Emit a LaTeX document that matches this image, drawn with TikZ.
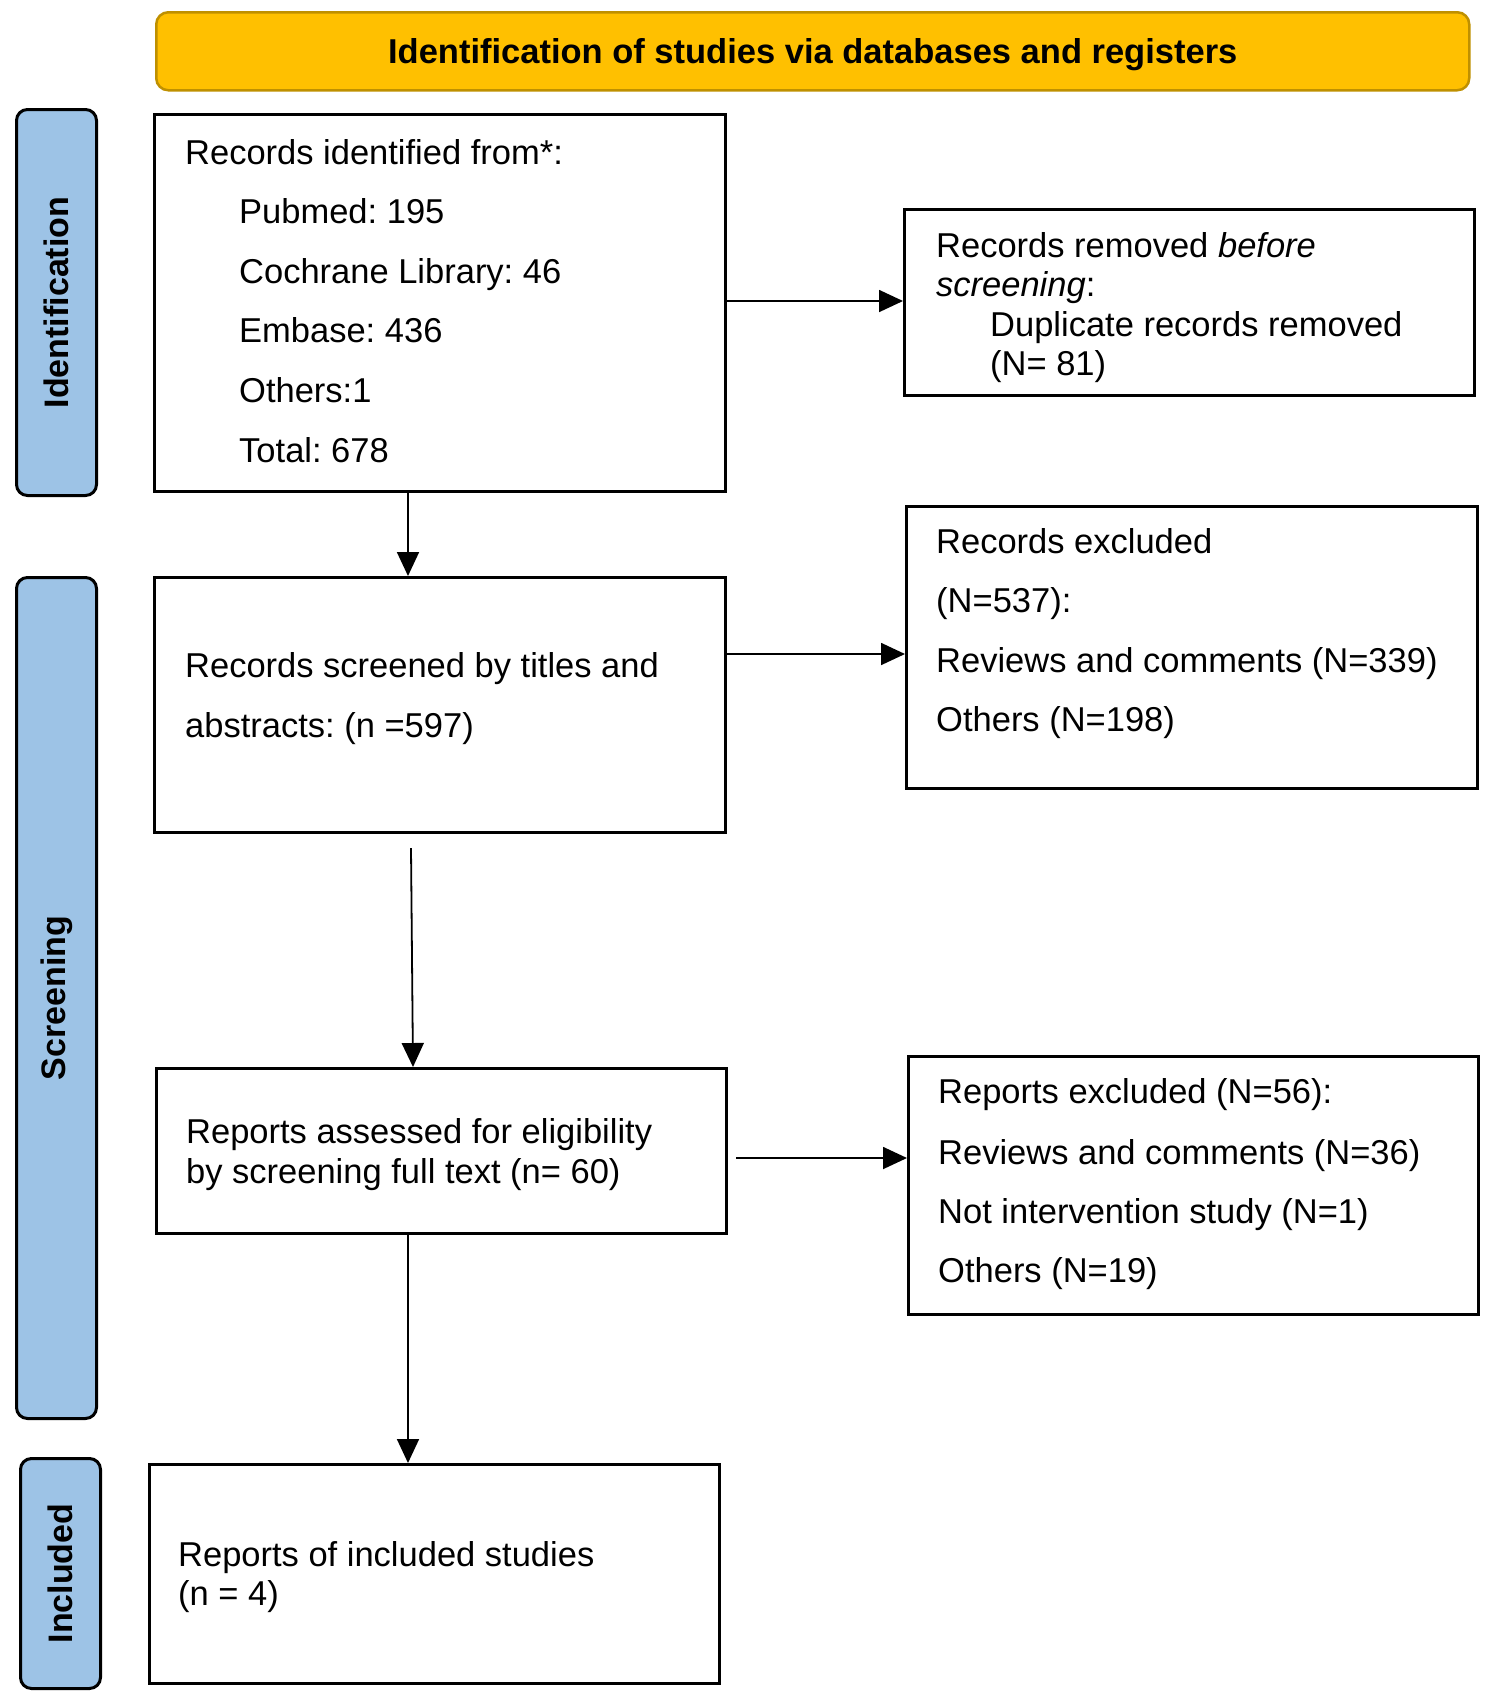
\documentclass[tikz,border=0pt]{standalone}
\usepackage{fontspec}
\setmainfont{Liberation Sans}
\usetikzlibrary{arrows.meta}
\definecolor{bannerfill}{HTML}{FFC000}
\definecolor{bannerdraw}{HTML}{BF9000}
\definecolor{sidefill}{HTML}{9DC3E6}
\tikzset{
  flowbox/.style={draw=black, line width=3pt, fill=white, inner sep=0pt, anchor=north west},
  sidebox/.style={draw=black, line width=3pt, fill=sidefill, rounded corners=11pt, inner sep=0pt, anchor=north west},
  sidelabel/.style={rotate=90, font=\fontsize{34}{40}\selectfont\bfseries, inner sep=0pt},
  txt/.style={anchor=base west, inner sep=0pt, font=\fontsize{34.5}{40}\selectfont},
  flow/.style={line width=1.8pt, -{Triangle[length=24pt, width=22pt]}}
}
\frenchspacing
\begin{document}
\begin{tikzpicture}[x=1pt,y=-1pt]
\useasboundingbox (0,0) rectangle (1489,1701);
% banner
\node[draw=bannerdraw, line width=2.5pt, fill=bannerfill, rounded corners=12pt, anchor=north west,
      minimum width=1313pt, minimum height=78pt, inner sep=0pt] (banner) at (155,11) {};
\node[font=\fontsize{34.5}{40}\selectfont\bfseries, inner sep=0pt] (bannertxt) at ([yshift=-3pt]banner.center) {Identification of studies via databases and registers};
% side boxes
\node[sidebox, minimum width=80pt, minimum height=386pt] (sideid) at (15,108) {};
\node[sidelabel] (sideidtxt) at (sideid.center) {Identification};
\node[sidebox, minimum width=80pt, minimum height=841pt] (sidescr) at (15,576) {};
\node[sidelabel] (sidescrtxt) at (sidescr.center) {Screening};
\node[sidebox, minimum width=80pt, minimum height=230pt] (sideinc) at (19,1457) {};
\node[sidelabel] (sideinctxt) at (sideinc.center) {Included};
% boxes
\node[flowbox, minimum width=571pt, minimum height=377pt] (b1) at (153,113) {};
\node[flowbox, minimum width=570pt, minimum height=186pt] (b2) at (903,208) {};
\node[flowbox, minimum width=571pt, minimum height=255pt] (b3) at (153,576) {};
\node[flowbox, minimum width=571pt, minimum height=282pt] (b4) at (905,505) {};
\node[flowbox, minimum width=570pt, minimum height=165pt] (b5) at (155,1067) {};
\node[flowbox, minimum width=570pt, minimum height=258pt] (b6) at (907,1055) {};
\node[flowbox, minimum width=570pt, minimum height=219pt] (b7) at (148,1463) {};
% texts box 1
\node[txt] (t1a) at (185,164) {Records identified from*:};
\node[txt] (t1b) at (239,223) {Pubmed: 195};
\node[txt] (t1c) at (239,283) {Cochrane Library: 46};
\node[txt] (t1d) at (239,342) {Embase: 436};
\node[txt] (t1e) at (239,402) {Others:1};
\node[txt] (t1f) at (239,462) {Total: 678};
% box 2
\node[txt] (t2a) at (936,257) {Records removed \textit{before}};
\node[txt] (t2b) at (936,296) {\textit{screening}:};
\node[txt] (t2c) at (990,336) {Duplicate records removed};
\node[txt] (t2d) at (990,375) {(N= 81)};
% box 3
\node[txt] (t3a) at (185,677) {Records screened by titles and};
\node[txt] (t3b) at (185,737) {abstracts: (n =597)};
% box 4
\node[txt] (t4a) at (936,553) {Records excluded};
\node[txt] (t4b) at (936,612) {(N=537):};
\node[txt] (t4c) at (936,672) {Reviews and comments (N=339)};
\node[txt] (t4d) at (936,731) {Others (N=198)};
% box 5
\node[txt] (t5a) at (186,1143) {Reports assessed for eligibility};
\node[txt] (t5b) at (186,1183) {by screening full text (n= 60)};
% box 6
\node[txt] (t6a) at (938,1103) {Reports excluded (N=56):};
\node[txt] (t6b) at (938,1164) {Reviews and comments (N=36)};
\node[txt] (t6c) at (938,1223) {Not intervention study (N=1)};
\node[txt] (t6d) at (938,1282) {Others (N=19)};
% box 7
\node[txt] (t7a) at (178,1566) {Reports of included studies};
\node[txt] (t7b) at (178,1605) {(n = 4)};
% connectors
\coordinate (c12) at (b1.east |- 0,301);
\coordinate (c34) at (b3.east |- 0,654);
\coordinate (c35) at (411,848);
\coordinate (c56) at (736,1158);
\draw[flow] (c12) -- (b2.west |- c12);
\draw[flow] (b1.south -| 408,0) -- (b3.north -| 408,0);
\draw[flow] (c34) -- (b4.west |- c34);
\draw[flow] (c35) -- (b5.north -| 413,0);
\draw[flow] (c56) -- (b6.west |- c56);
\draw[flow] (b5.south -| 408,0) -- (b7.north -| 408,0);
\end{tikzpicture}
\end{document}
